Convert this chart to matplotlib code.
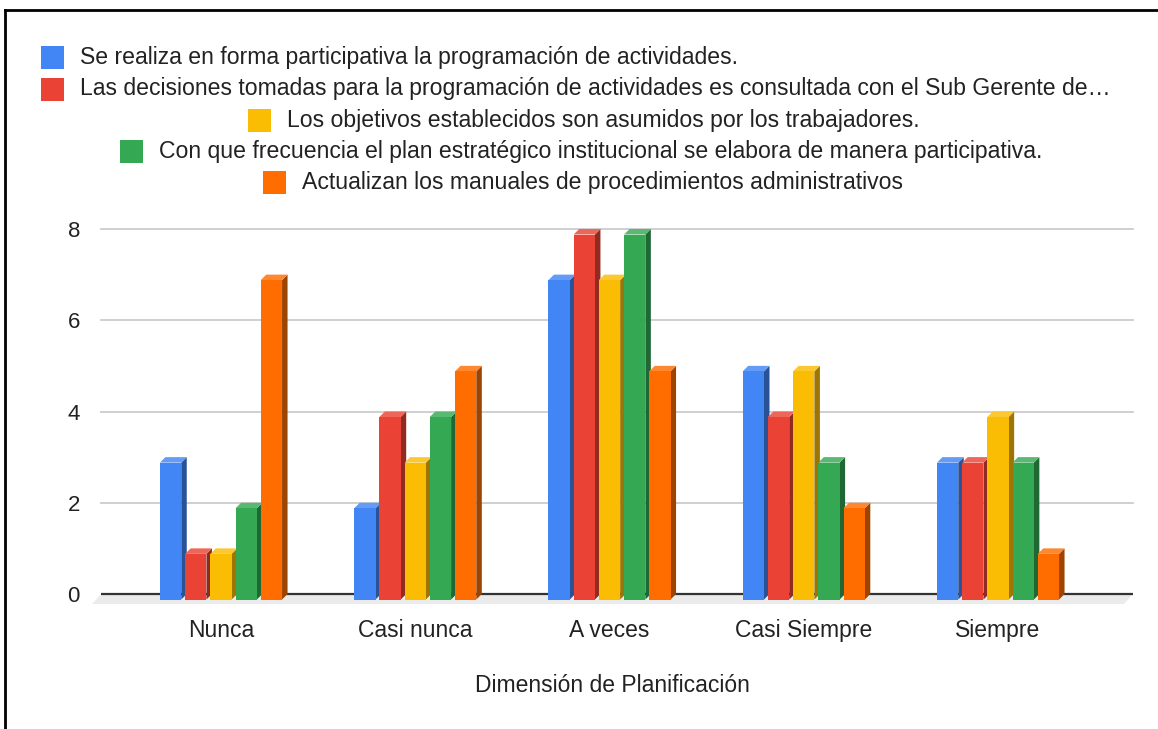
import matplotlib
matplotlib.use('Agg')
import matplotlib.pyplot as plt
from matplotlib.patches import Polygon, Rectangle
from matplotlib.lines import Line2D
import matplotlib.colors as mcolors
import numpy as np

# ---------------- data ----------------
categories = ["Nunca", "Casi nunca", "A veces", "Casi Siempre", "Siempre"]
series_names = [
    "Se realiza en forma participativa la programación de actividades.",
    "Las decisiones tomadas para la programación de actividades es consultada con el Sub Gerente de…",
    "Los objetivos establecidos son asumidos por los trabajadores.",
    "Con que frecuencia el plan estratégico institucional se elabora de manera participativa.",
    "Actualizan los manuales de procedimientos administrativos",
]
s1 = [3, 2, 7, 5, 3]
s2 = [1, 4, 8, 4, 3]
s3 = [1, 3, 7, 5, 4]
s4 = [2, 4, 8, 3, 3]
s5 = [7, 5, 5, 2, 1]
series_values = [s1, s2, s3, s4, s5]
colors = ["#4285F4", "#EA4335", "#FBBC04", "#34A853", "#FF6D01"]
yticks = [0, 2, 4, 6, 8]
xlabel = "Dimensión de Planificación"

plt.rcParams['font.family'] = ['Liberation Sans', 'DejaVu Sans']

W, H = 1158, 729
fig = plt.figure(figsize=(W / 100, H / 100), dpi=100)
fig.patch.set_facecolor('white')

def fx(p):
    return p / W

def fy(p):
    return 1 - p / H

# ---------------- axes geometry (pixels) ----------------
px_per_x = 194.25
px_per_y = 45.625
x_front0 = 221
base_px = 594
xl_px, xr_px = 80, 1145
ylo, yhi = -0.4, 8.6
xlo = (xl_px - x_front0) / px_per_x
xhi = (xr_px - x_front0) / px_per_x
ax = fig.add_axes([fx(xl_px), fy(base_px + (-ylo) * px_per_y),
                   (xr_px - xl_px) / W, (yhi - ylo) * px_per_y / H])
ax.set_xlim(xlo, xhi)
ax.set_ylim(ylo, yhi)
for sp in ax.spines.values():
    sp.set_visible(False)
ax.set_facecolor('none')

def ux(px):
    return px / px_per_x

def uy(px):
    return px / px_per_y

back_l = (101 - x_front0) / px_per_x
back_r = (1133 - x_front0) / px_per_x

# gridlines
for t in yticks[1:]:
    ax.plot([back_l, back_r], [t, t], color='#cccccc', lw=1.3, zorder=1)

# floor
fdx, fdy = ux(9), uy(10)
floor = Polygon([[back_l, 0], [back_r, 0], [back_r - fdx, -fdy], [back_l - fdx, -fdy]],
                closed=True, facecolor='#ebebeb', edgecolor='none', zorder=1)
ax.add_patch(floor)
ax.plot([back_l, back_r], [0, 0], color='#333333', lw=1.6, zorder=2, solid_capstyle='butt')

# bars
pitch = ux(25.2)
bw = ux(21.3)
ddx, ddy = ux(5.5), uy(5.5)

def darker(c, f):
    r, g, b = mcolors.to_rgb(c)
    return (r * f, g * f, b * f)

def lighter(c, f):
    r, g, b = mcolors.to_rgb(c)
    return (r + (1 - r) * f, g + (1 - g) * f, b + (1 - b) * f)

z = 3
for i in range(len(categories)):
    for k, vals in enumerate(series_values):
        v = vals[i]
        c = colors[k]
        xc = i + (k - 2) * pitch
        l, r = xc - bw / 2, xc + bw / 2
        side = Polygon([[r, -ddy], [r + ddx, 0], [r + ddx, v], [r, v - ddy]],
                       closed=True, facecolor=darker(c, 0.62), edgecolor='none', zorder=z)
        top = Polygon([[l, v - ddy], [r, v - ddy], [r + ddx, v], [l + ddx, v]],
                      closed=True, facecolor=lighter(c, 0.18), edgecolor='none', zorder=z)
        ax.add_patch(side)
        ax.add_patch(top)
        ax.bar(xc, v, width=bw, bottom=-ddy, color=c, edgecolor='none', zorder=z + 0.5)
        z += 1

# ticks
ax.set_yticks(yticks)
ax.set_yticklabels([str(t) for t in yticks], fontsize=16, color='#222222')
ax.set_xticks(range(len(categories)))
ax.set_xticklabels(categories, fontsize=16.5, color='#222222')
ax.tick_params(axis='both', length=0)
ax.tick_params(axis='y', pad=0)
ax.tick_params(axis='x', pad=5)

fig.text(fx(612), fy(686), xlabel, fontsize=16.5, color='#222222', ha='center', va='center')

# legend
rows = [(41, 80, 57.7), (41, 80, 89), (248, 287, 120), (120, 159, 151.5), (263, 302, 182.5)]
sq = 23
for (sqx, tx, cy), name, c in zip(rows, series_names, colors):
    fig.add_artist(Rectangle((fx(sqx), fy(cy + sq / 2)), sq / W, sq / H, transform=fig.transFigure,
                             facecolor=c, edgecolor='none'))
    fig.text(fx(tx), fy(cy), name, fontsize=16.6, color='#222222', ha='left', va='center')

# border
fig.add_artist(Line2D([fx(5), fx(5)], [fy(10), 0], color='black', lw=2, transform=fig.transFigure))
fig.add_artist(Line2D([fx(5), 1], [fy(10), fy(10)], color='black', lw=2, transform=fig.transFigure))

fig.savefig('out.png', dpi=100, facecolor='white')
